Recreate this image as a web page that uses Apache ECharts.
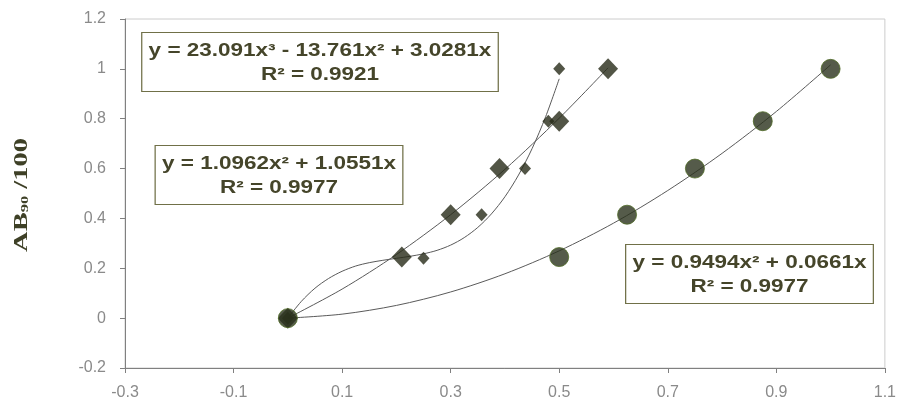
<!DOCTYPE html>
<html>
<head>
<meta charset="utf-8">
<script src="https://cdn.jsdelivr.net/npm/echarts@6/dist/echarts.min.js"></script>
<style>html,body{margin:0;padding:0;background:#fff}#c{width:899px;height:404px}</style>
</head>
<body>
<div id="c"></div>
<script>
// Measured points
const bigDiamondX = [0, 0.21, 0.30, 0.39, 0.50, 0.59];
const bigDiamondY = [0, 0.245, 0.415, 0.60, 0.79, 1.0];
const smallDiamondX = [0, 0.25, 0.357, 0.437, 0.48, 0.50];
const smallDiamondY = [0, 0.24, 0.415, 0.60, 0.79, 1.0];
const circleX = [0, 0.50, 0.625, 0.75, 0.875, 1.0];
const circleY = [0, 0.245, 0.415, 0.60, 0.79, 1.0];

// Trendlines
const cubicTrendX = [0, 0.025, 0.05, 0.075, 0.1, 0.125, 0.15, 0.175, 0.2, 0.225, 0.25, 0.275, 0.3, 0.325, 0.35, 0.375, 0.4, 0.425, 0.45, 0.475, 0.5];
const cubicTrendY = [0, 0.0675, 0.120, 0.159, 0.188, 0.209, 0.2225, 0.232, 0.240, 0.248, 0.258, 0.272, 0.293, 0.323, 0.364, 0.418, 0.487, 0.574, 0.680, 0.808, 0.960];
const quadATrendX = [0, 0.1, 0.2, 0.3, 0.4, 0.5, 0.59];
const quadATrendY = [0, 0.1165, 0.255, 0.415, 0.597, 0.802, 1.004];
const quadBTrendX = [0, 0.1, 0.2, 0.3, 0.4, 0.5, 0.6, 0.7, 0.8, 0.9, 1.0];
const quadBTrendY = [0, 0.016, 0.051, 0.105, 0.178, 0.270, 0.381, 0.512, 0.661, 0.829, 1.016];

const xTicks = [-0.3, -0.1, 0.1, 0.3, 0.5, 0.7, 0.9, 1.1];
const eqCubic = 'y = 23.091x³ - 13.761x² + 3.0281x\nR² = 0.9921';
const eqQuadA = 'y = 1.0962x² + 1.0551x\nR² = 0.9977';
const eqQuadB = 'y = 0.9494x² + 0.0661x\nR² = 0.9977';
const yTitle = '{m|AB}{s|90}{m| /100}';

const pair = (xs, ys) => xs.map((x, i) => [x, ys[i]]);
const trendStyle = {color: '#5a5a5a', width: 1};
const markColor = '#272b18';
const labelFont = '"Liberation Sans", Arial, sans-serif';

const chart = echarts.init(document.getElementById('c'), null, {renderer: 'canvas'});
const eqBox = (cx, top, text) => ({
  type: 'text', x: cx, y: top, scaleX: 1.25, z: 100,
  style: {
    text: text,
    font: 'bold 18px "Liberation Sans", Arial, sans-serif',
    fill: '#45452a',
    align: 'center', textAlign: 'center',
    verticalAlign: 'top', textVerticalAlign: 'top',
    lineHeight: 24,
    backgroundColor: '#fff',
    borderColor: '#707048',
    borderWidth: 1,
    padding: [6, 5, 4, 5]
  }
});
chart.setOption({
  animation: false,
  backgroundColor: '#fff',
  grid: {left: 125, right: 10, top: 19, bottom: 36, show: true, borderColor: '#cccccc', borderWidth: 1},
  xAxis: {
    type: 'value', min: -0.3, max: 1.1,
    axisLine: {show: true, onZero: false, lineStyle: {color: '#808080'}},
    axisTick: {show: true, length: 5, customValues: xTicks, lineStyle: {color: '#808080'}},
    axisLabel: {customValues: xTicks, color: '#8a8a8a', fontSize: 16, margin: 17, fontFamily: labelFont},
    splitLine: {show: false}
  },
  yAxis: {
    type: 'value', min: -0.2, max: 1.2, interval: 0.2,
    axisLine: {show: true, onZero: false, lineStyle: {color: '#808080'}},
    axisTick: {show: true, length: 5, lineStyle: {color: '#808080'}},
    axisLabel: {color: '#8a8a8a', fontSize: 16, margin: 19, fontFamily: labelFont},
    splitLine: {show: false}
  },
  graphic: [
    eqBox(320, 33, eqCubic),
    eqBox(279, 146, eqQuadA),
    eqBox(749.5, 245, eqQuadB),
    {
      type: 'text', x: 22, y: 195, rotation: Math.PI / 2, scaleX: 1.5, z: 100,
      style: {
        text: yTitle,
        align: 'center', textAlign: 'center',
        verticalAlign: 'middle', textVerticalAlign: 'middle',
        rich: {
          m: {fontFamily: '"Liberation Serif", "Times New Roman", serif', fontWeight: 'bold', fontSize: 19, fill: '#3e4026', color: '#3e4026'},
          s: {fontFamily: '"Liberation Serif", "Times New Roman", serif', fontWeight: 'bold', fontSize: 11, fill: '#3e4026', color: '#3e4026', padding: [6, 0, 0, 0]}
        }
      }
    }
  ],
  series: [
    {type: 'line', data: pair(cubicTrendX, cubicTrendY), smooth: 0.3, showSymbol: false, lineStyle: trendStyle, z: 1, silent: true},
    {type: 'line', data: pair(quadATrendX, quadATrendY), smooth: 0.3, showSymbol: false, lineStyle: trendStyle, z: 1, silent: true},
    {type: 'line', data: pair(quadBTrendX, quadBTrendY), smooth: 0.3, showSymbol: false, lineStyle: trendStyle, z: 1, silent: true},
    {type: 'scatter', data: pair(smallDiamondX, smallDiamondY), symbol: 'diamond', symbolSize: [12, 13], itemStyle: {color: markColor}, z: 3},
    {type: 'scatter', data: pair(bigDiamondX, bigDiamondY), symbol: 'diamond', symbolSize: [20, 21], itemStyle: {color: markColor}, z: 3},
    {type: 'scatter', data: pair(circleX, circleY), symbol: 'circle', symbolSize: 19, itemStyle: {color: '#2a321d', borderColor: '#4f6a26', borderWidth: 1}, z: 4}
  ]
});
</script>
</body>
</html>
